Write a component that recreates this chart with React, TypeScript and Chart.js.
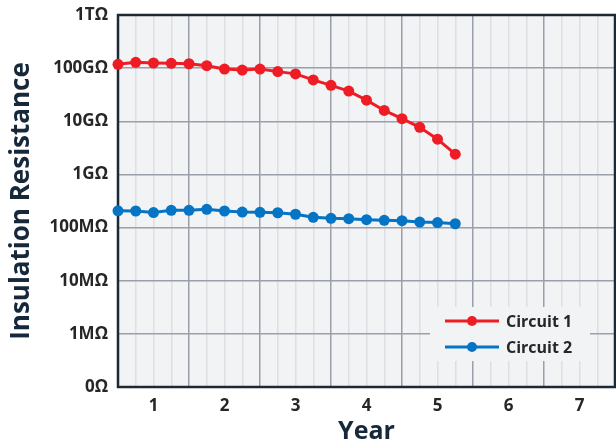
import React, { useEffect, useRef } from "react";
import { Chart, registerables } from "chart.js";

Chart.register(...registerables);

const years = [0.5, 0.75, 1.0, 1.25, 1.5, 1.75, 2.0, 2.25, 2.5, 2.75, 3.0, 3.25, 3.5, 3.75, 4.0, 4.25, 4.5, 4.75, 5.0, 5.25];
const circuit1 = [118e9, 129e9, 125e9, 123e9, 121e9, 111e9, 96e9, 92e9, 96e9, 86e9, 78e9, 60e9, 47.5e9, 37e9, 25e9, 16e9, 11.2e9, 7.7e9, 4.6e9, 2.4e9];
const circuit2 = [207e6, 205e6, 192e6, 211e6, 211e6, 221e6, 205e6, 196e6, 194e6, 190e6, 178e6, 156e6, 149e6, 147e6, 141e6, 137e6, 135e6, 127e6, 124e6, 118e6];
const yTickValues = [1e5, 1e6, 1e7, 1e8, 1e9, 1e10, 1e11, 1e12];
const yTickLabels = ["0Ω", "1MΩ", "10MΩ", "100MΩ", "1GΩ", "10GΩ", "100GΩ", "1TΩ"];
const xTickLabels = ["1", "2", "3", "4", "5", "6", "7"];
const seriesLabels = ["Circuit 1", "Circuit 2"];

const RED = "#ee1d25";
const BLUE = "#0574c4";
const PLOT_BG = "#f1f3f5";
const MAJOR = "#9aa0a9";
const MINOR = "#dcdfe3";
const BORDER = "#1d2a36";
const TICK = "#262626";
const TITLE = "#16283a";
const FONT = "'Open Sans', 'DejaVu Sans', sans-serif";

const bgPlugin = {
  id: "plotBg",
  beforeDraw(chart: any) {
    const { ctx, chartArea: a } = chart;
    ctx.save();
    ctx.fillStyle = PLOT_BG;
    ctx.fillRect(a.left, a.top, a.right - a.left, a.bottom - a.top);
    ctx.restore();
  },
  beforeDatasetsDraw(chart: any) {
    const { ctx, chartArea: a } = chart;
    ctx.save();
    ctx.strokeStyle = BORDER;
    ctx.lineWidth = 2.5;
    ctx.strokeRect(a.left, a.top, a.right - a.left, a.bottom - a.top);
    ctx.restore();
  },
};

const legendPlugin = {
  id: "innerLegend",
  afterDraw(chart: any) {
    const { ctx, chartArea: a } = chart;
    const w = 160;
    const h = 54;
    const x0 = a.right - 25 - w;
    const y0 = a.bottom - 80;
    ctx.save();
    ctx.fillStyle = PLOT_BG;
    ctx.fillRect(x0, y0, w, h);
    chart.data.datasets.forEach((ds: any, i: number) => {
      const cy = y0 + 14 + i * 26;
      const lx = x0 + 15;
      ctx.strokeStyle = ds.borderColor;
      ctx.lineWidth = 3;
      ctx.beginPath();
      ctx.moveTo(lx, cy);
      ctx.lineTo(lx + 54, cy);
      ctx.stroke();
      ctx.fillStyle = ds.borderColor;
      ctx.beginPath();
      ctx.arc(lx + 27, cy, 5, 0, Math.PI * 2);
      ctx.fill();
      ctx.fillStyle = TICK;
      ctx.font = `bold 16px ${FONT}`;
      ctx.textBaseline = "middle";
      ctx.textAlign = "left";
      ctx.fillText(ds.label, lx + 61, cy + 1);
    });
    ctx.restore();
  },
};

export default function App() {
  const ref = useRef<HTMLCanvasElement | null>(null);
  useEffect(() => {
    document.body.style.margin = "0";
    const canvas = ref.current;
    if (!canvas) return;
    const chart = new Chart(canvas, {
      type: "line",
      data: {
        datasets: [
          {
            label: seriesLabels[0],
            data: years.map((x, i) => ({ x, y: circuit1[i] })),
            borderColor: RED,
            backgroundColor: RED,
            borderWidth: 3,
            pointRadius: 5.5,
            pointHoverRadius: 5.5,
            pointBorderWidth: 0,
            tension: 0,
            clip: false,
          },
          {
            label: seriesLabels[1],
            data: years.map((x, i) => ({ x, y: circuit2[i] })),
            borderColor: BLUE,
            backgroundColor: BLUE,
            borderWidth: 3,
            pointRadius: 5.5,
            pointHoverRadius: 5.5,
            pointBorderWidth: 0,
            tension: 0,
            clip: false,
          },
        ],
      },
      options: {
        animation: false,
        responsive: false,
        maintainAspectRatio: false,
        layout: { autoPadding: false, padding: { top: 15, right: 1, left: 0, bottom: 0 } },
        plugins: {
          legend: { display: false },
          tooltip: { enabled: false },
        },
        scales: {
          x: {
            type: "linear",
            min: 0.5,
            max: 7.5,
            afterBuildTicks(scale: any) {
              const t = [];
              for (let i = 0; i <= 28; i++) t.push({ value: 0.5 + i * 0.25 });
              scale.ticks = t;
            },
            afterFit(scale: any) {
              scale.height = 60;
              scale.paddingLeft = 0;
              scale.paddingRight = 0;
            },
            grid: {
              drawTicks: false,
              color: (c: any) => {
                const v = c.tick ? c.tick.value : 0;
                return Math.abs((v % 1) - 0.5) < 1e-6 ? MAJOR : MINOR;
              },
              lineWidth: 1.5,
            },
            border: { display: false },
            ticks: {
              autoSkip: false,
              maxRotation: 0,
              padding: 9,
              color: TICK,
              font: { family: FONT, size: 17, weight: "bold" },
              callback: (v: any) => {
                const n = Number(v);
                if (Math.abs(n - Math.round(n)) < 1e-6) {
                  return xTickLabels[Math.round(n) - 1] ?? "";
                }
                return "";
              },
            },
            title: {
              display: true,
              text: "Year",
              color: TITLE,
              font: { family: FONT, size: 25, weight: "bold" },
              padding: { top: 2, bottom: 0 },
            },
          },
          y: {
            type: "logarithmic",
            min: 1e5,
            max: 1e12,
            afterBuildTicks(scale: any) {
              scale.ticks = yTickValues.map((v) => ({ value: v, major: true }));
            },
            afterFit(scale: any) {
              scale.width = 118;
              scale.paddingTop = 0;
              scale.paddingBottom = 0;
            },
            grid: { drawTicks: false, color: MAJOR, lineWidth: 1.5 },
            border: { display: false },
            ticks: {
              autoSkip: false,
              padding: 10,
              color: TICK,
              font: { family: FONT, size: 17, weight: "bold" },
              callback: (v: any) => {
                const idx = yTickValues.findIndex((t) => Math.abs(Math.log10(t) - Math.log10(Number(v))) < 1e-6);
                return idx >= 0 ? yTickLabels[idx] : "";
              },
            },
            title: {
              display: true,
              text: "Insulation Resistance",
              color: TITLE,
              font: { family: FONT, size: 26, weight: "bold" },
              padding: { top: 6, bottom: 0 },
            },
          },
        },
      },
      plugins: [bgPlugin, legendPlugin],
    } as any);
    return () => chart.destroy();
  }, []);
  return (
    <div style={{ position: "absolute", left: 0, top: 0, width: 616, height: 447 }}>
      <canvas ref={ref} width={616} height={447} style={{ width: 616, height: 447, display: "block" }} />
    </div>
  );
}
